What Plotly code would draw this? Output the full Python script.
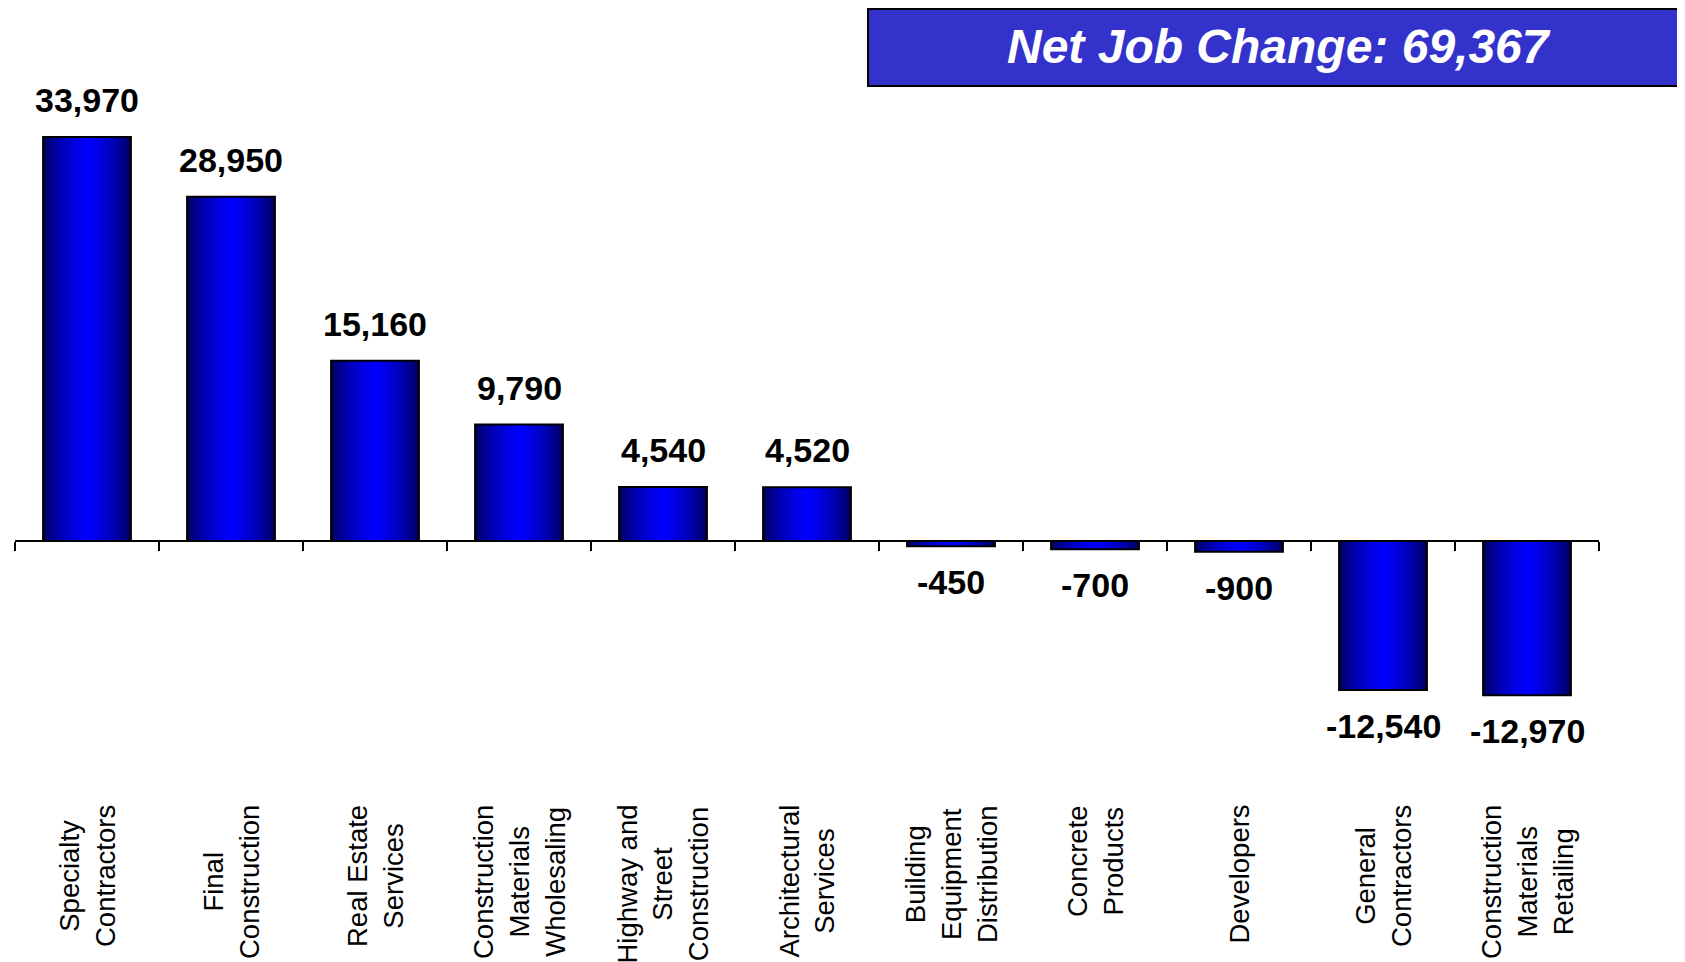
import plotly.graph_objects as go

# ---- data ----
categories = [
    "Specialty<br>Contractors",
    "Final<br>Construction",
    "Real Estate<br>Services",
    "Construction<br>Materials<br>Wholesaling",
    "Highway and<br>Street<br>Construction",
    "Architectural<br>Services",
    "Building<br>Equipment<br>Distribution",
    "Concrete<br>Products",
    "Developers",
    "General<br>Contractors",
    "Construction<br>Materials<br>Retailing",
]
job_change = [33970, 28950, 15160, 9790, 4540, 4520, -450, -700, -900, -12540, -12970]
net_change_title = "Net Job Change: 69,367"

# ---- styling ----
FONT = "Liberation Sans, Arial, sans-serif"
OFF = 8                      # page body margin
W, H = 1685 - OFF, 962 - OFF
BAR_W = 0.61
N_LAYERS = 16
DARK = (0, 0, 80)
BRIGHT = (0, 0, 255)
PX_PER_UNIT = 0.01189
ZERO_PX = 541 - OFF
Y_RANGE = [-(H - ZERO_PX) / PX_PER_UNIT, ZERO_PX / PX_PER_UNIT]

xs = list(range(len(categories)))

fig = go.Figure()

# gradient bars built from stacked overlay layers (edge -> center)
for k in range(N_LAYERS):
    t = (k / (N_LAYERS - 1)) ** 0.6
    col = tuple(int(round(DARK[c] + (BRIGHT[c] - DARK[c]) * t)) for c in range(3))
    w = BAR_W * (1 - k / N_LAYERS)
    fig.add_trace(go.Bar(
        x=xs, y=job_change, width=[w] * len(xs),
        marker=dict(color="rgb(%d,%d,%d)" % col, line=dict(width=0)),
        hoverinfo="skip", showlegend=False,
    ))
# outline on top
fig.add_trace(go.Bar(
    x=xs, y=job_change, width=[BAR_W] * len(xs),
    marker=dict(color="rgba(0,0,0,0)", line=dict(width=2, color="black")),
    hovertemplate="%{y:,}<extra></extra>", showlegend=False,
))

annotations = []
# value labels
for x, v in zip(xs, job_change):
    annotations.append(dict(
        x=x, y=v, xref="x", yref="y",
        text="{:,}".format(v), showarrow=False,
        yanchor="bottom" if v >= 0 else "top",
        yshift=16 if v >= 0 else -15,
        font=dict(family=FONT, size=34, color="black", weight="bold"),
    ))
# category labels (rotated)
for x, c in zip(xs, categories):
    annotations.append(dict(
        x=x, y=(H - (803 - OFF)) / H, xref="x", yref="paper",
        text=c, showarrow=False, textangle=-90,
        xanchor="center", yanchor="top", align="center",
        font=dict(family=FONT, size=27.5, color="black"),
    ))
# title box text
annotations.append(dict(
    x=(1279 - OFF) / W, y=1 - (47 - OFF) / H, xref="paper", yref="paper",
    text="<i><b>" + net_change_title + "</b></i>", showarrow=False,
    xanchor="center", yanchor="middle",
    font=dict(family=FONT, size=48, color="white"),
))

zero_pos = (0 - Y_RANGE[0]) / (Y_RANGE[1] - Y_RANGE[0])

fig.update_layout(
    width=W, height=H,
    margin=dict(l=0, r=0, t=0, b=0),
    paper_bgcolor="white", plot_bgcolor="white",
    barmode="overlay",
    xaxis=dict(
        domain=[(15 - OFF) / W, (1599 - OFF) / W],
        range=[-0.5, len(xs) - 0.5],
        anchor="free", position=zero_pos,
        showline=True, linecolor="black", linewidth=2,
        ticks="outside", ticklen=9, tickwidth=2, tickcolor="black",
        tickmode="array", tickvals=[i - 0.5 for i in range(len(xs) + 1)],
        showticklabels=False, showgrid=False, zeroline=False,
    ),
    yaxis=dict(
        domain=[0, 1], range=Y_RANGE, visible=False,
        showgrid=False, zeroline=False,
    ),
    annotations=annotations,
    shapes=[dict(
        type="rect", xref="paper", yref="paper",
        x0=(868 - OFF) / W, x1=1 - 1 / W, y0=1 - (86 - OFF) / H, y1=1 - 1 / H,
        fillcolor="#3333CC", line=dict(color="black", width=2), layer="below",
    )],
)

fig.write_html("out.html")
